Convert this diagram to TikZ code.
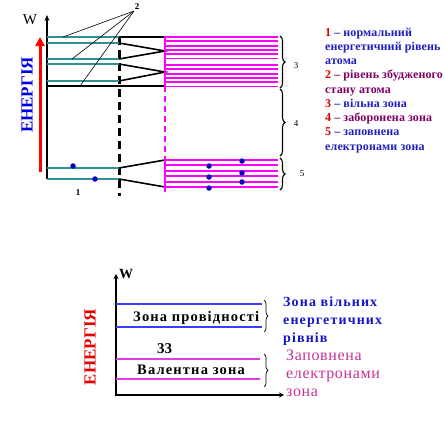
\documentclass[tikz,border=0pt]{standalone}
\usepackage{fontspec}
\setmainfont{Liberation Serif}
\newfontfamily\lsA[LetterSpace=1]{Liberation Serif}
\newfontfamily\lsB[LetterSpace=8]{Liberation Serif}
\newfontfamily\lsC[LetterSpace=4]{Liberation Serif}
\usetikzlibrary{arrows.meta,decorations.pathreplacing}
\definecolor{tealL}{RGB}{46,146,146}
\definecolor{magL}{RGB}{255,0,255}
\definecolor{dotB}{RGB}{0,0,190}
\definecolor{legBlue}{RGB}{30,30,190}
\definecolor{legPur}{RGB}{128,0,100}
\definecolor{legRed}{RGB}{215,0,0}
\definecolor{enBlue}{RGB}{0,0,230}
\definecolor{enRed}{RGB}{230,0,0}
\definecolor{lnBlue}{RGB}{60,60,250}
\definecolor{lnMag}{RGB}{225,60,225}
\definecolor{txBlue}{RGB}{20,20,200}
\definecolor{txPink}{RGB}{200,50,150}
\tikzset{
  tealline/.style={draw=tealL, line width=2pt},
  fanline/.style={draw=black, line width=1.6pt},
  bandline/.style={draw=magL, line width=1.9pt},
  dotc/.style={circle, fill=dotB, inner sep=0pt, minimum size=5.5pt},
  ptr/.style={draw=black, line width=0.6pt},
  bracestyle/.style={draw=black, line width=1.1pt, decorate, decoration={brace, amplitude=5pt}},
  smallbrace/.style={draw=black, line width=0.7pt, decorate, decoration={brace, amplitude=4pt}},
  leg/.style={anchor=base west, inner sep=0pt, font=\lsA\fontsize{12}{14}\selectfont\bfseries},
  numlab/.style={inner sep=0pt, font=\fontsize{9}{10}\selectfont},
  energy/.style={rotate=90, inner sep=0pt, font=\fontsize{17}{18}\selectfont\bfseries},
}
\begin{document}
\begin{tikzpicture}[x=1pt,y=-1pt]
\useasboundingbox (0,0) rectangle (445,434);
% ---------- top diagram ----------
\node[energy, text=enBlue] (en1) at (27,95) {ЕНЕРГІЯ};
\draw[draw=red, line width=3pt, -{Triangle[width=9pt,length=9pt]}] (40,172) -- (40,37);
\draw[line width=1.5pt, -{Stealth[width=5pt,length=6pt]}] (47,179) -- (47,15);
\node[inner sep=0pt, font=\fontsize{15}{16}\selectfont] (w1) at (30,20) {W};
% dashed verticals
\draw[draw=black, line width=2.6pt, dash pattern=on 8pt off 5pt] (119.5,37) -- (119.5,196);
\draw[draw=magL, line width=2pt, dash pattern=on 6pt off 4pt] (165,86) -- (165,196);
% teal atomic levels
\foreach \y in {37,43,59,64,81,168,179} \draw[tealline] (47,\y) -- (119,\y);
% black fan lines
\draw[fanline] (119,37) -- (165,37);
\draw[fanline] (119,43) -- (165,51) -- (119,59);
\draw[fanline] (119,64) -- (165,72) -- (119,81);
\draw[fanline] (47,86) -- (165,86);
\draw[fanline] (119,168) -- (165,160);
\draw[fanline] (119,179) -- (165,187);
% pointer lines from label 2
\node[numlab, font=\fontsize{9}{10}\selectfont\bfseries] (two) at (137,7) {2};
\coordinate (p1) at (63,37);
\coordinate (p2) at (72,59);
\coordinate (p3) at (80,86);
\draw[ptr] (134,11) -- (p1);
\draw[ptr] (134,11) -- (p2);
\draw[ptr] (134,11) -- (p3);
\node[numlab, font=\fontsize{9}{10}\selectfont\bfseries] (one) at (78,193) {1};
% electrons on atomic levels
\node[dotc] (e1) at (73,166) {};
\node[dotc] (e2) at (95,179) {};
% band 3
\foreach \y in {37,41.3,45.6,49.9,54.2,58.5,65,69.3,73.6,77.9,82.2,86.5} \draw[bandline] (165,\y) -- (278,\y);
\draw[draw=magL, line width=2.5pt] (165,36) -- (165,87.5);
% band 5
\foreach \y in {160,165.4,170.8,176.2,181.6,187} \draw[bandline] (165,\y) -- (278,\y);
\draw[draw=magL, line width=2.5pt] (165,159) -- (165,188);
\node[dotc] (d1) at (209,166) {};
\node[dotc] (d2) at (242,161) {};
\node[dotc] (d3) at (209,177) {};
\node[dotc] (d4) at (242,173) {};
\node[dotc] (d5) at (209,188) {};
\node[dotc] (d6) at (242,182) {};
% braces
\draw[bracestyle] (280,36) -- (280,88);
\draw[bracestyle] (280,89) -- (280,156);
\draw[bracestyle] (280,158) -- (280,190);
\node[numlab] (three) at (296,66) {3};
\node[numlab] (four) at (296,124) {4};
\node[numlab] (five) at (302,174) {5};
% legend
\node[leg] (l1) at (325,36) {\textcolor{legRed}{1} \textcolor{legBlue}{– нормальний}};
\node[leg, text=legBlue] (l2) at (325,50.25) {енергетичний рівень};
\node[leg, text=legBlue] (l3) at (325,64.5) {атома};
\node[leg] (l4) at (325,78.75) {\textcolor{legRed}{2} \textcolor{legPur}{– рівень збудженого}};
\node[leg, text=legPur] (l5) at (325,93) {стану атома};
\node[leg] (l6) at (325,107.25) {\textcolor{legRed}{3} \textcolor{legBlue}{– вільна зона}};
\node[leg] (l7) at (325,121.5) {\textcolor{legRed}{4} \textcolor{legPur}{– заборонена зона}};
\node[leg] (l8) at (325,135.75) {\textcolor{legRed}{5} \textcolor{legBlue}{– заповнена}};
\node[leg, text=legBlue] (l9) at (325,150) {електронами зона};
% ---------- bottom diagram ----------
\node[energy, text=enRed] (en2) at (90,347) {ЕНЕРГІЯ};
\draw[line width=1.5pt, -{Stealth[width=5pt,length=5pt]}] (116,396) -- (116,274);
\draw[line width=1.5pt, -{Stealth[width=5pt,length=5pt]}] (116,395) -- (284,395);
\node[anchor=base west, inner sep=0pt, font=\fontsize{14}{15}\selectfont\bfseries] (w2) at (119,278) {W};
\draw[draw=lnBlue, line width=1.1pt] (116,304) -- (262,304);
\draw[draw=lnBlue, line width=1.1pt] (116,327) -- (262,327);
\draw[draw=lnMag, line width=1.1pt] (116,359) -- (260,359);
\draw[draw=lnMag, line width=1.1pt] (116,379) -- (260,379);
\node[anchor=base west, inner sep=0pt, font=\lsB\fontsize{14.5}{15}\selectfont\bfseries] (cb) at (133,321) {Зона провідності};
\node[anchor=base west, inner sep=0pt, font=\lsB\fontsize{14.5}{15}\selectfont\bfseries] (vb) at (137,374) {Валентна зона};
\node[anchor=base west, inner sep=0pt, font=\fontsize{15}{16}\selectfont\bfseries] (gap) at (157,353) {33};
\draw[smallbrace] (264,300) -- (264,332);
\draw[smallbrace] (264,354) -- (264,387);
\node[anchor=base west, inner sep=0pt, text=txBlue, font=\lsB\fontsize{14}{15}\selectfont\bfseries] (r1) at (283,306) {Зона вільних};
\node[anchor=base west, inner sep=0pt, text=txBlue, font=\lsB\fontsize{14}{15}\selectfont\bfseries] (r2) at (283,324) {енергетичних};
\node[anchor=base west, inner sep=0pt, text=txBlue, font=\lsB\fontsize{14}{15}\selectfont\bfseries] (r3) at (283,342) {рівнів};
\node[anchor=base west, inner sep=0pt, text=txPink, font=\lsC\fontsize{16}{17}\selectfont] (r4) at (286,360.5) {Заповнена};
\node[anchor=base west, inner sep=0pt, text=txPink, font=\lsC\fontsize{16}{17}\selectfont] (r5) at (286,378.5) {електронами};
\node[anchor=base west, inner sep=0pt, text=txPink, font=\lsC\fontsize{16}{17}\selectfont] (r6) at (286,396.5) {зона};
\end{tikzpicture}
\end{document}
